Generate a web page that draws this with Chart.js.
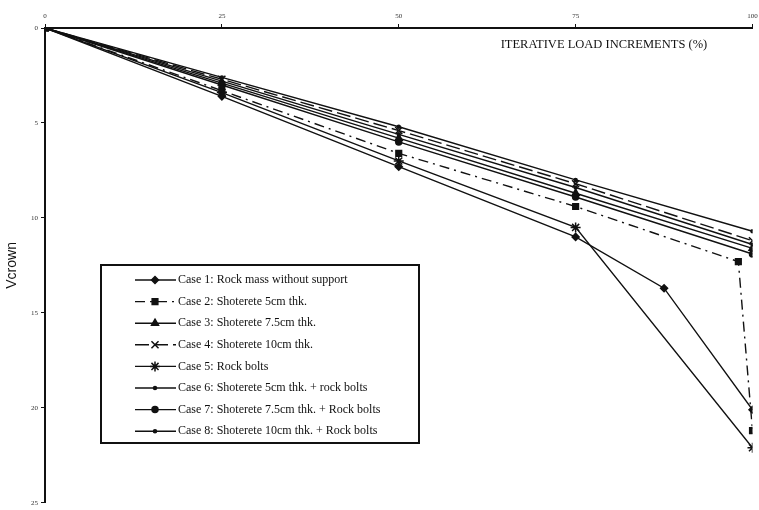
<!DOCTYPE html>
<html>
<head>
<meta charset="utf-8">
<script src="https://cdn.jsdelivr.net/npm/chart.js@4"></script>
<style>
  html, body { margin: 0; padding: 0; background: #fff; }
  #wrap { width: 759px; height: 510px; }
</style>
</head>
<body>
<div id="wrap"><canvas id="grafico"></canvas></div>
<script>
// valores (x = incremento de carga %, y = Vcrown)
const xTicks = [0, 25, 50, 75, 100];
const yTicks = [0, 5, 10, 15, 20, 25];
const legendas = [
  'Case 1: Rock mass without support',
  'Case 2: Shoterete 5cm thk.',
  'Case 3: Shoterete 7.5cm thk.',
  'Case 4: Shoterete 10cm thk.',
  'Case 5: Rock bolts',
  'Case 6: Shoterete 5cm thk. + rock bolts',
  'Case 7: Shoterete 7.5cm thk. + Rock bolts',
  'Case 8: Shoterete 10cm thk. + Rock bolts'
];
const case1X = [0, 25, 50, 75, 87.5, 100];
const case1Y = [0, 3.6, 7.3, 11.0, 13.7, 20.1];
const case2X = [0, 25, 50, 75, 98, 100];
const case2Y = [0, 3.3, 6.6, 9.4, 12.3, 21.2];
const case3X = [0, 25, 50, 75, 100];
const case3Y = [0, 2.9, 5.8, 8.7, 11.6];
const case4X = [0, 25, 50, 75, 100];
const case4Y = [0, 2.7, 5.4, 8.2, 11.2];
const case5X = [0, 25, 50, 75, 100];
const case5Y = [0, 3.4, 7.0, 10.5, 22.1];
const case6X = [0, 25, 50, 75, 100];
const case6Y = [0, 2.6, 5.2, 8.0, 10.7];
const case7X = [0, 25, 50, 75, 100];
const case7Y = [0, 3.0, 6.0, 8.9, 11.9];
const case8X = [0, 25, 50, 75, 100];
const case8Y = [0, 2.8, 5.6, 8.4, 11.4];

function pontos(xs, ys) {
  return xs.map((x, i) => ({ x: x, y: ys[i] }));
}

const estilos = [
  { x: case1X, y: case1Y, ponto: 'rectRot', raio: 3.5, dash: [] },
  { x: case2X, y: case2Y, ponto: 'rect', raio: 4, dash: [10, 5, 2, 5] },
  { x: case3X, y: case3Y, ponto: 'triangle', raio: 4, dash: [] },
  { x: case4X, y: case4Y, ponto: 'crossRot', raio: 5, dash: [14, 5] },
  { x: case5X, y: case5Y, ponto: 'star', raio: 5, dash: [] },
  { x: case6X, y: case6Y, ponto: 'circle', raio: 1.5, dash: [] },
  { x: case7X, y: case7Y, ponto: 'circle', raio: 3, dash: [] },
  { x: case8X, y: case8Y, ponto: 'circle', raio: 1.5, dash: [] }
];

const datasets = estilos.map((e, i) => ({
  label: legendas[i],
  data: pontos(e.x, e.y),
  borderColor: '#111',
  backgroundColor: '#111',
  borderWidth: 1.4,
  borderDash: e.dash,
  pointStyle: e.ponto,
  pointRadius: e.raio,
  pointBorderWidth: 1.5,
  pointBorderColor: '#111',
  pointBackgroundColor: '#111',
  tension: 0
}));

// título do eixo x desenhado abaixo da linha do eixo, à direita
const tituloX = {
  id: 'tituloX',
  afterDraw(chart) {
    const ctx = chart.ctx;
    const sx = chart.scales.x;
    ctx.save();
    ctx.font = '12.5px "Liberation Serif"';
    ctx.fillStyle = '#111';
    ctx.textAlign = 'center';
    ctx.textBaseline = 'middle';
    ctx.fillText('ITERATIVE LOAD INCREMENTS (%)', sx.getPixelForValue(79), sx.bottom + 17);
    ctx.restore();
  }
};

// legenda em caixa dentro da área do gráfico
const caixaLegenda = {
  id: 'caixaLegenda',
  afterDraw(chart) {
    const ctx = chart.ctx;
    const left = 101, top = 265, w = 318, h = 178;
    ctx.save();
    ctx.fillStyle = '#fff';
    ctx.fillRect(left, top, w, h);
    ctx.strokeStyle = '#111';
    ctx.lineWidth = 2;
    ctx.strokeRect(left, top, w, h);
    chart.data.datasets.forEach((ds, i) => {
      const y = top + 15 + i * 21.6;
      ctx.strokeStyle = '#111';
      ctx.fillStyle = '#111';
      ctx.lineWidth = 1.4;
      ctx.setLineDash(ds.borderDash);
      ctx.beginPath();
      ctx.moveTo(135, y);
      ctx.lineTo(176, y);
      ctx.stroke();
      ctx.setLineDash([]);
      ctx.lineWidth = 1.5;
      Chart.helpers.drawPoint(ctx, {
        pointStyle: ds.pointStyle,
        radius: ds.pointRadius,
        borderWidth: 1.5,
        rotation: 0
      }, 155, y);
      ctx.font = '12px "Liberation Serif"';
      ctx.textAlign = 'left';
      ctx.textBaseline = 'middle';
      ctx.fillText(ds.label, 178, y);
    });
    ctx.restore();
  }
};

new Chart(document.getElementById('grafico'), {
  type: 'line',
  data: { datasets: datasets },
  plugins: [tituloX, caixaLegenda],
  options: {
    responsive: true,
    maintainAspectRatio: false,
    animation: false,
    layout: { padding: { right: 0, bottom: 5 } },
    plugins: {
      legend: { display: false },
      tooltip: { enabled: false }
    },
    scales: {
      x: {
        type: 'linear',
        position: 'top',
        min: 0,
        max: 100,
        afterBuildTicks: s => { s.ticks = xTicks.map(v => ({ value: v })); },
        afterFit: s => { s.height = 28; s.paddingRight = 4; },
        ticks: { color: '#333', font: { size: 7, family: 'Liberation Serif' }, padding: 4 },
        grid: { drawOnChartArea: false, color: '#111', tickLength: 4 },
        border: { color: '#111', width: 2 }
      },
      y: {
        reverse: true,
        min: 0,
        max: 25,
        afterBuildTicks: s => { s.ticks = yTicks.map(v => ({ value: v })); },
        afterFit: s => { s.width = 45; },
        ticks: { color: '#333', font: { size: 7, family: 'Liberation Serif' }, padding: 3 },
        grid: { drawOnChartArea: false, color: '#111', tickLength: 4 },
        border: { color: '#111', width: 2 },
        title: {
          display: true,
          text: 'Vcrown',
          color: '#111',
          font: { size: 14, family: 'Liberation Sans' },
          padding: { top: 4, bottom: 4 }
        }
      }
    }
  }
});
</script>
</body>
</html>
